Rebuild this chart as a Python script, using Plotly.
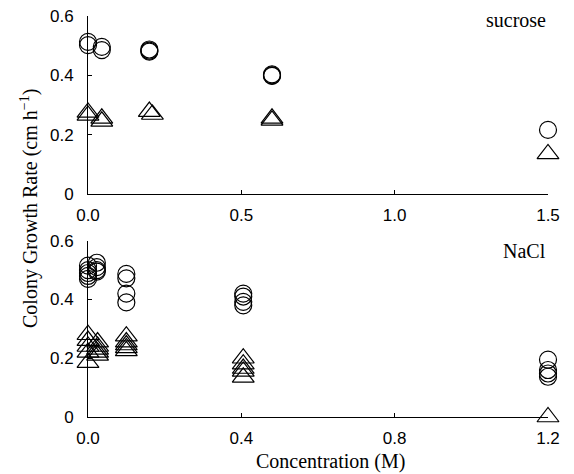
import plotly.graph_objects as go

# ---- data: sucrose (top panel) ----
suc_circle_x = [0.0, 0.0, 0.045, 0.045, 0.2, 0.2, 0.2, 0.6, 0.6, 0.6, 1.5]
suc_circle_y = [0.513, 0.502, 0.496, 0.485, 0.487, 0.483, 0.48, 0.403, 0.40, 0.398, 0.216]
suc_tri_x = [0.0, 0.0, 0.045, 0.045, 0.2, 0.21, 0.6, 0.6, 1.5]
suc_tri_y = [0.275, 0.265, 0.255, 0.245, 0.278, 0.268, 0.255, 0.248, 0.135]

# ---- data: NaCl (bottom panel) ----
nacl_circle_x = [0.0, 0.0, 0.0, 0.0, 0.0, 0.023, 0.023, 0.023, 0.023,
                 0.1, 0.1, 0.1, 0.1, 0.405, 0.405, 0.405, 0.405,
                 1.2, 1.2, 1.2, 1.2]
nacl_circle_y = [0.515, 0.50, 0.49, 0.48, 0.47, 0.525, 0.51, 0.50, 0.495,
                 0.487, 0.472, 0.42, 0.39, 0.42, 0.41, 0.392, 0.38,
                 0.195, 0.16, 0.148, 0.137]
nacl_tri_x = [0.0, 0.0, 0.0, 0.0, 0.0, 0.025, 0.025, 0.025, 0.025, 0.025,
              0.1, 0.1, 0.1, 0.1, 0.1, 0.405, 0.405, 0.405, 0.405, 0.405, 1.2]
nacl_tri_y = [0.28, 0.26, 0.24, 0.22, 0.185, 0.255, 0.24, 0.23, 0.22, 0.21,
              0.275, 0.255, 0.245, 0.235, 0.225, 0.20, 0.18, 0.165, 0.155, 0.135, 0.0]

top_xticks = [0.0, 0.5, 1.0, 1.5]
bot_xticks = [0.0, 0.4, 0.8, 1.2]
yticks = [0, 0.2, 0.4, 0.6]
ytick_labels = ["0", "0.2", "0.4", "0.6"]

SANS = "Liberation Sans, Arial, sans-serif"
SERIF = "Liberation Serif, Times New Roman, serif"

circle_marker = dict(symbol="circle-open", size=17, color="black", line=dict(width=1.2, color="black"))
tri_marker = dict(symbol="triangle-up-open", size=19, color="black", line=dict(width=1.2, color="black"))

fig = go.Figure()
fig.add_trace(go.Scatter(x=suc_circle_x, y=suc_circle_y, mode="markers", marker=circle_marker,
                         xaxis="x", yaxis="y", cliponaxis=False, showlegend=False))
fig.add_trace(go.Scatter(x=suc_tri_x, y=suc_tri_y, mode="markers", marker=tri_marker,
                         xaxis="x", yaxis="y", cliponaxis=False, showlegend=False))
fig.add_trace(go.Scatter(x=nacl_circle_x, y=nacl_circle_y, mode="markers", marker=circle_marker,
                         xaxis="x2", yaxis="y2", cliponaxis=False, showlegend=False))
fig.add_trace(go.Scatter(x=nacl_tri_x, y=nacl_tri_y, mode="markers", marker=tri_marker,
                         xaxis="x2", yaxis="y2", cliponaxis=False, showlegend=False))

axis_common = dict(showgrid=False, zeroline=False, showline=True, linecolor="black", linewidth=1,
                   ticks="inside", ticklen=4, tickcolor="black", tickwidth=1, automargin=False,
                   ticklabeloverflow="allow",
                   tickfont=dict(family=SANS, size=17, color="black"))

W, H = 574, 474
ML, MR, MT, MB = 88, 26, 16, 57
pw = W - ML - MR
ph = H - MT - MB


def px_x(x):
    return (x - ML) / pw


def px_y(y):
    return (H - MB - y) / ph


fig.update_layout(
    width=W, height=H,
    margin=dict(l=ML, r=MR, t=MT, b=MB),
    paper_bgcolor="white", plot_bgcolor="white",
    xaxis=dict(domain=[0, 1], anchor="y", range=[0, 1.5], tickvals=top_xticks,
               tickformat=".1f", ticklabelstandoff=6, **axis_common),
    yaxis=dict(domain=[px_y(194), 1], anchor="x", range=[0, 0.6], tickvals=yticks,
               ticktext=ytick_labels, ticklabelstandoff=10, **axis_common),
    xaxis2=dict(domain=[0, 1], anchor="y2", range=[0, 1.2], tickvals=bot_xticks,
                tickformat=".1f", ticklabelstandoff=6, **axis_common),
    yaxis2=dict(domain=[0, px_y(240.7)], anchor="x2", range=[0, 0.6], tickvals=yticks,
                ticktext=ytick_labels, ticklabelstandoff=10, **axis_common),
    annotations=[
        dict(text="sucrose", x=1.5, y=0.6, xref="x", yref="y", xanchor="right", yanchor="top",
             yshift=9, showarrow=False, font=dict(family=SERIF, size=20, color="black")),
        dict(text="NaCl", x=1.2, y=0.6, xref="x2", yref="y2", xanchor="right", yanchor="top",
             yshift=3, showarrow=False, font=dict(family=SERIF, size=20, color="black")),
        dict(text="Colony Growth Rate (cm h<sup>\u22121</sup>)",
             x=px_x(29), y=px_y(209), xref="paper", yref="paper",
             xanchor="center", yanchor="middle",
             showarrow=False, textangle=-90, font=dict(family=SERIF, size=20, color="black")),
        dict(text="Concentration (M)",
             x=px_x(330), y=px_y(461), xref="paper", yref="paper",
             xanchor="center", yanchor="middle",
             showarrow=False, font=dict(family=SERIF, size=20, color="black")),
    ],
)

# remove the browser's default 8px page margin so the 574x474 figure fills the window
fig.write_html("out.html",
               config={"displayModeBar": False},
               post_script="document.body.style.margin='0';document.body.style.overflow='hidden';")
